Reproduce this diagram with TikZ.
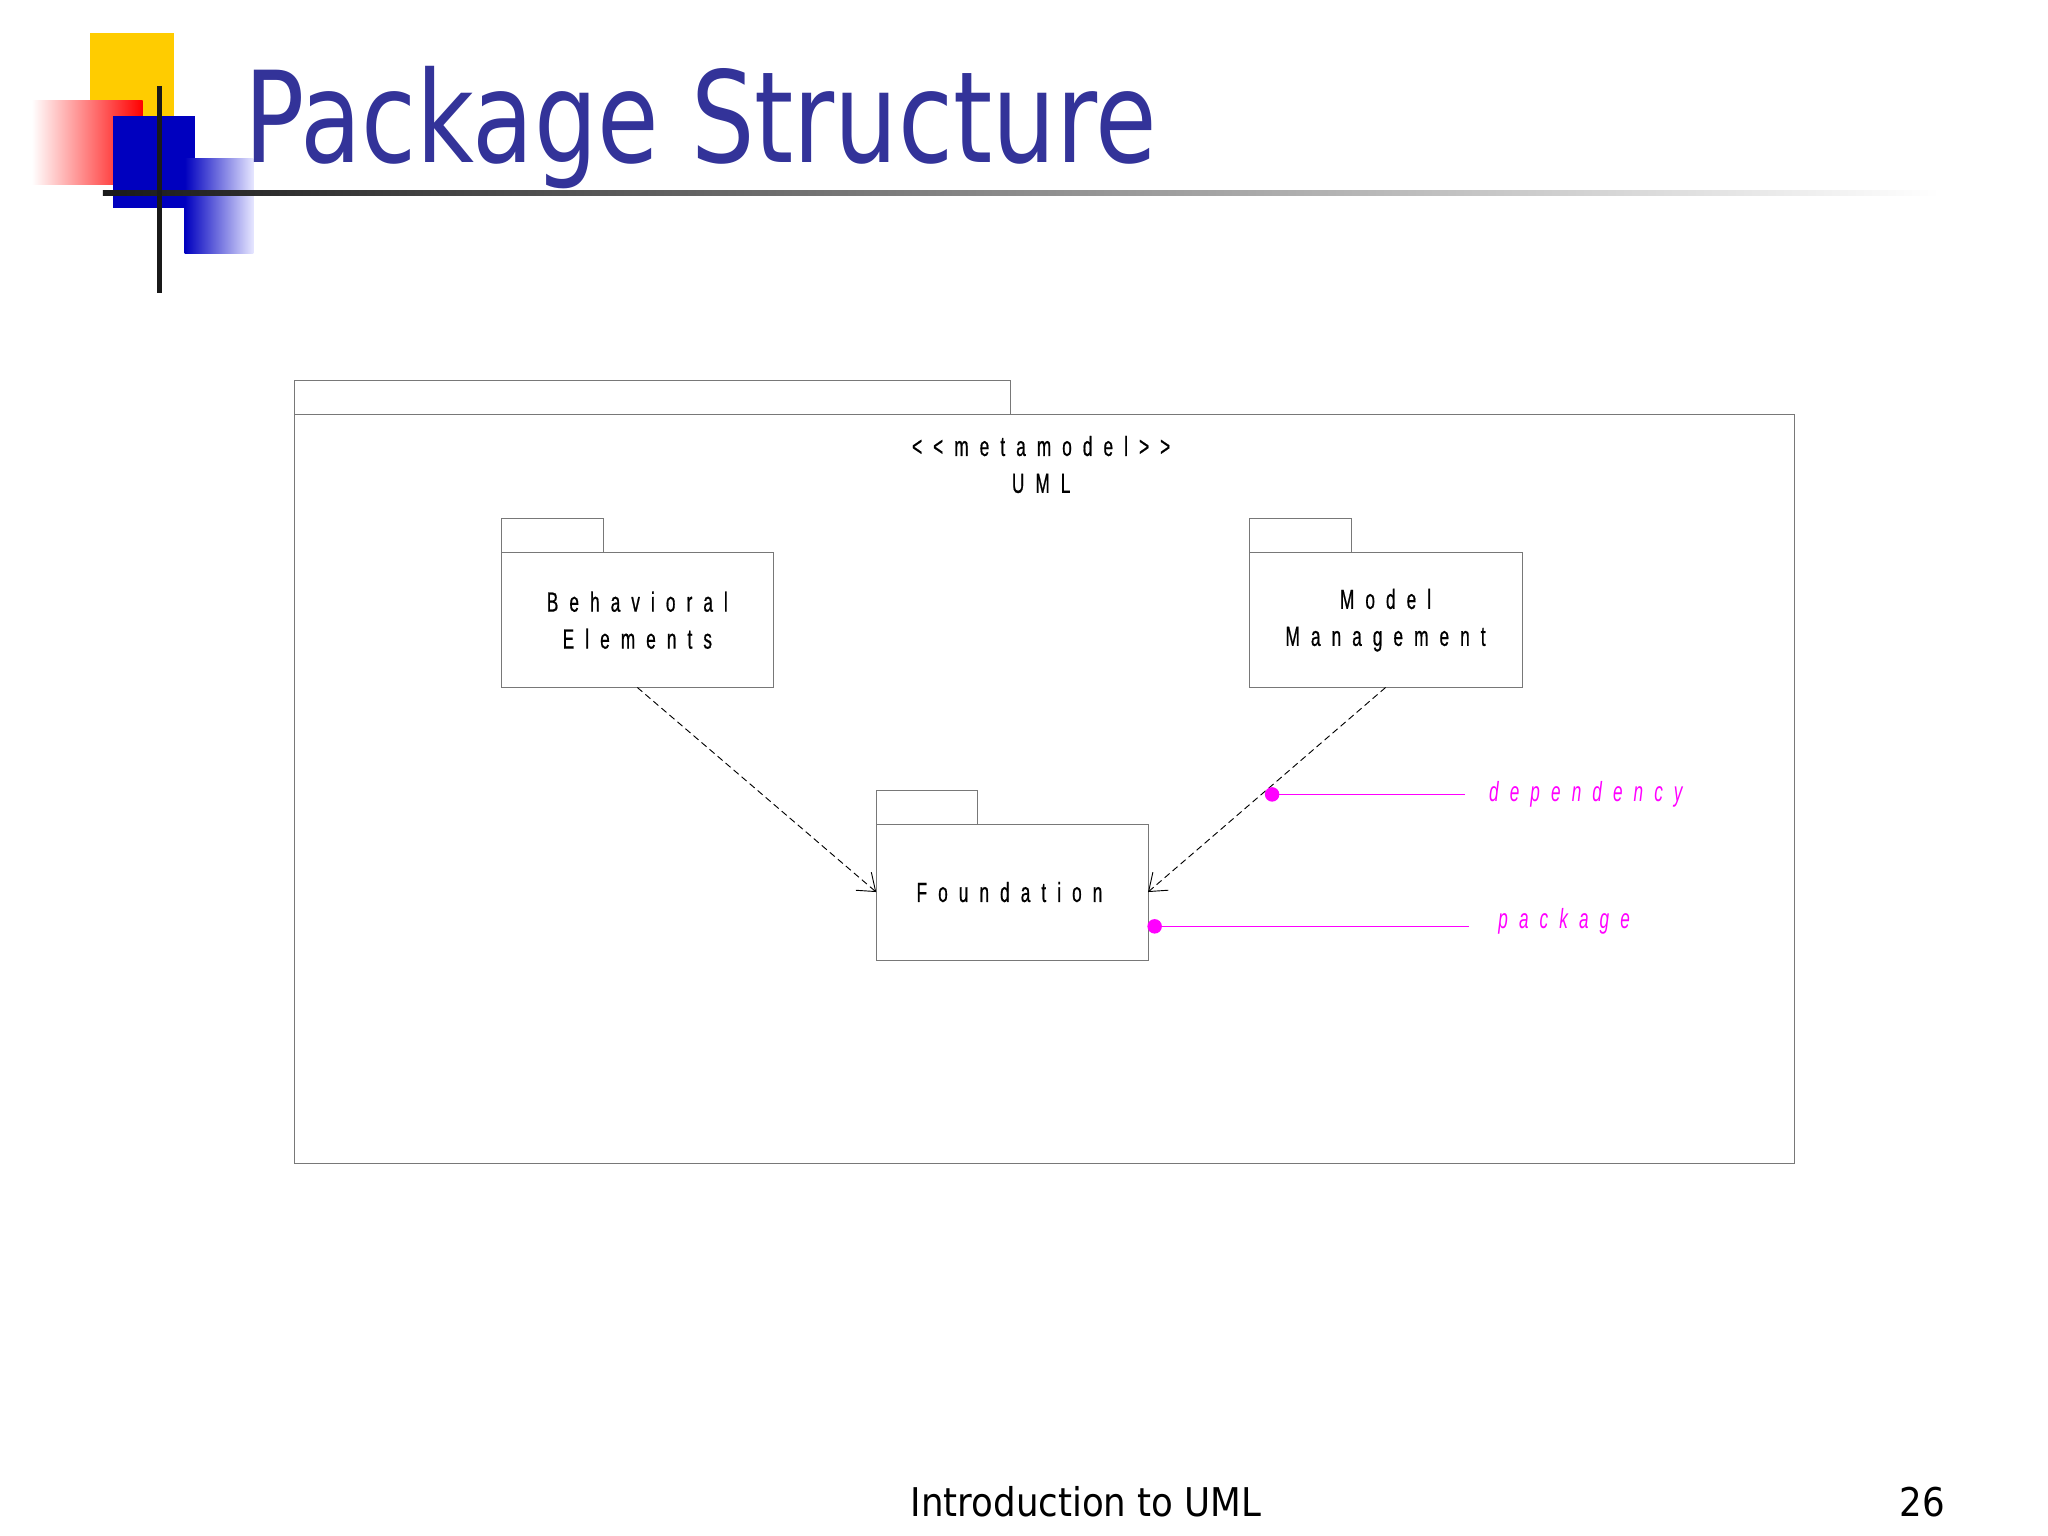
\documentclass[tikz,border=0pt]{standalone}
\usepackage{fontspec}
\setmainfont{DejaVu Sans}[FakeStretch=0.9]
\newfontfamily\titlef{DejaVu Sans}[FakeStretch=0.79]
\newfontfamily\diag[FakeStretch=0.62,LetterSpace=40,FakeBold=0.6]{Liberation Sans}
\newfontfamily\diagi[FakeStretch=0.62,LetterSpace=40]{Liberation Sans Italic}
\usetikzlibrary{arrows.meta}
\definecolor{ttl}{RGB}{51,51,153}
\definecolor{mag}{RGB}{255,0,255}
\definecolor{frame}{RGB}{120,120,120}
\definecolor{gold}{RGB}{255,204,0}
\begin{document}
\begin{tikzpicture}[x=1pt,y=-1pt,
  box/.style={draw=frame,line width=0.8pt},
  lbl/.style={font=\diag\fontsize{21}{28}\selectfont,align=center,text=black},
  note/.style={font=\diagi\fontsize{21}{24}\selectfont,text=mag,anchor=west},
  dep/.style={dashed,dash pattern=on 5pt off 3pt,line width=0.7pt,-{Straight Barb[length=12pt,width=18pt,line width=0.7pt]}},
  lead/.style={mag,line width=0.8pt}]
\useasboundingbox (0,0) rectangle (1552,1164);
\fill[white] (0,0) rectangle (1552,1164);
% decoration
\fill[gold] (68,25) rectangle (132,88);
\shade[left color=white,right color=red] (24,76) rectangle (108,140);
\fill[blue!75!black] (86,88) rectangle (148,158);
\shade[left color=blue!75!black,right color=blue!10] (140,120) rectangle (192,192);
\shade[left color=black!90,right color=white] (78,144) rectangle (1470,148);
\draw[black!90,line width=3.5pt] (121,65) -- (121,222);
\node[anchor=base west,font=\titlef\fontsize{96}{100}\selectfont,text=ttl,inner sep=0] (title) at (185,123) {Package Structure};
% UML package
\draw[box] (223,288) rectangle (766,314);
\draw[box] (223,314) rectangle (1360,882);
\node[lbl] (uml) at (789,352) {<<metamodel>>\\UML};
% Behavioral
\draw[box] (380,393) rectangle (457,419);
\draw[box] (380,419) rectangle (586,521);
\node[lbl] (beh) at (483,470) {Behavioral\\Elements};
% Model management
\draw[box] (947,393) rectangle (1024,419);
\draw[box] (947,419) rectangle (1154,521);
\node[lbl] (mm) at (1050,470) {Model\\Management};
% Foundation
\draw[box] (664,599) rectangle (741,625);
\draw[box] (664,625) rectangle (870,728);
\node[lbl] (fnd) at (765,676) {Foundation};
\coordinate (bb) at (483,521);
\coordinate (mb) at (1050,521);
\coordinate (fl) at (664,676);
\coordinate (fr) at (870,676);
\draw[dep] (bb) -- (fl);
\draw[dep] (mb) -- (fr);
% notes
\coordinate (d1) at (964,602);
\coordinate (d2) at (1110,602);
\coordinate (p1) at (875,702);
\coordinate (p2) at (1113,702);
\fill[mag] (d1) circle (5.5pt);
\draw[lead] (d1) -- (d2);
\node[note] (depl) at (1125,602) {dependency};
\fill[mag] (p1) circle (5.5pt);
\draw[lead] (p1) -- (p2);
\node[note] (pkgl) at (1132,698) {package};
% footer
\node[font=\fontsize{30}{34}\selectfont] (foot) at (823,1138) {Introduction to UML};
\node[font=\fontsize{30}{34}\selectfont] (num) at (1457,1138) {26};
\end{tikzpicture}
\end{document}
